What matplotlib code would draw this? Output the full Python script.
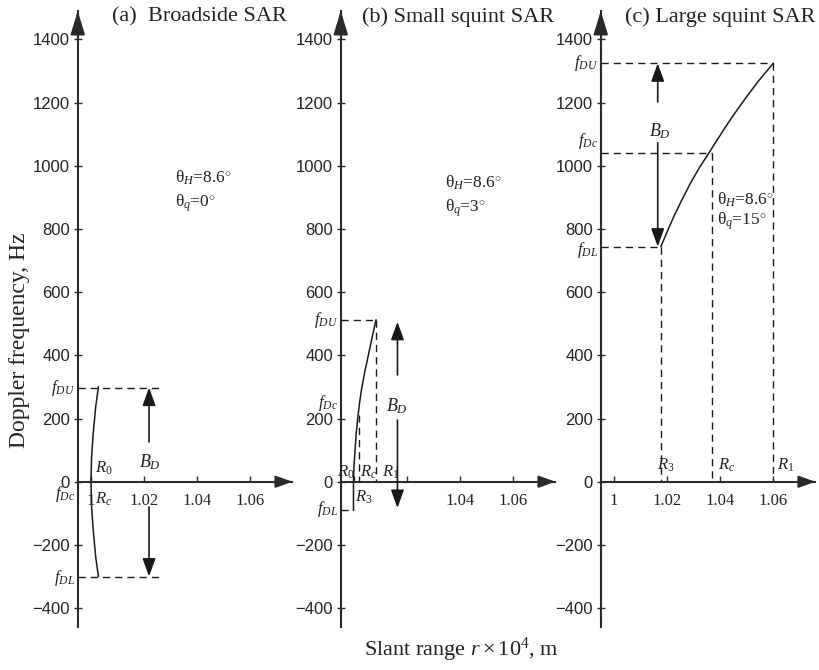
import matplotlib
matplotlib.use('Agg')
import matplotlib.pyplot as plt

plt.rcParams['font.family'] = ['Liberation Serif', 'DejaVu Serif']
plt.rcParams['mathtext.fontset'] = 'custom'
plt.rcParams['mathtext.rm'] = 'Liberation Serif'
plt.rcParams['mathtext.it'] = 'Liberation Serif:italic'
plt.rcParams['mathtext.bf'] = 'Liberation Serif:bold'
plt.rcParams['lines.scale_dashes'] = False

# ---------------- data ----------------
titles = ['(a)  Broadside SAR', '(b) Small squint SAR', '(c) Large squint SAR']
x_ticks = [1.0, 1.02, 1.04, 1.06]
x_ticklabels = [['1', '1.02', '1.04', '1.06'],
                ['', '', '1.04', '1.06'],
                ['1', '1.02', '1.04', '1.06']]
y_ticks = [-400, -200, 0, 200, 400, 600, 800, 1000, 1200, 1400]
theta_H = 8.6
theta_q = [0, 3, 15]

# (a) broadside
a_freq = [300, 240, 150, 75, 0, -75, -150, -240, -300]
a_range = [1.0028, 1.0018, 1.0008, 1.0002, 1.0, 1.0002, 1.0008, 1.0018, 1.0028]
a_fDU, a_fDL = 298, -300

# (b) small squint
b_freq = [-90, 0, 50, 100, 150, 200, 250, 290, 345, 400, 455, 512]
b_range = [0.9998, 0.9998, 1.0000, 1.0004, 1.0008, 1.0014, 1.0021, 1.0028,
           1.0040, 1.0054, 1.0068, 1.0083]
b_fDU, b_fDc, b_fDL = 512, 210, -90
b_R1, b_Rc, b_R3 = 1.0083, 1.0019, 0.9998

# (c) large squint
c_freq = [744, 790, 838, 890, 944, 995, 1039, 1080, 1123, 1170, 1218, 1270, 1324]
c_range = [1.0177, 1.0200, 1.0225, 1.0255, 1.0288, 1.0323, 1.0357, 1.0388,
           1.0421, 1.0459, 1.0500, 1.0547, 1.0601]
c_fDU, c_fDc, c_fDL = 1324, 1039, 744
c_R1, c_Rc, c_R3 = 1.0601, 1.0368, 1.0177

# ---------------- layout ----------------
W, H = 819, 670
XMIN, XMAX = 0.995, 1.076
YMIN, YMAX = -460, 1490
lefts_px = [77.75, 340.75, 600.75]
width_px = 214.65
bottom_px, top_px = 627.1, 10.9

INK = '#1a1a1a'
AXC = '#2a2a2a'
TXT = '#222222'
DASH = (5.2, 3.6)

fig = plt.figure(figsize=(W / 100, H / 100), dpi=100)
axes = []
for i in range(3):
    ax = fig.add_axes([lefts_px[i] / W, (H - bottom_px) / H,
                       width_px / W, (bottom_px - top_px) / H])
    ax.set_xlim(XMIN, XMAX)
    ax.set_ylim(YMIN, YMAX)
    for s in ['top', 'right']:
        ax.spines[s].set_visible(False)
    ax.spines['bottom'].set_position(('data', 0))
    for s in ['left', 'bottom']:
        ax.spines[s].set_linewidth(1.5)
        ax.spines[s].set_color(AXC)
    ax.set_xticks(x_ticks)
    ax.set_xticklabels(x_ticklabels[i], fontfamily='Liberation Serif', fontsize=12)
    ax.set_yticks(y_ticks)
    ax.set_yticklabels([f'{v:d}'.replace('-', '\u2212') for v in y_ticks],
                       fontfamily='Liberation Sans', fontsize=12)
    ax.tick_params(axis='x', direction='in', length=4, width=1.0, pad=8, colors=AXC,
                   labelcolor=TXT)
    ax.tick_params(axis='y', direction='inout', length=6, width=1.0, pad=2.5, colors=AXC,
                   labelcolor=TXT)
    # axis arrow heads
    ax.annotate('', xy=(0, 1), xycoords='axes fraction', xytext=(0, 0.975),
                arrowprops=dict(arrowstyle='-|>,head_length=0.72,head_width=0.22',
                                mutation_scale=20, lw=1.5, color=AXC,
                                shrinkA=0, shrinkB=0))
    ax.annotate('', xy=(1, 0), xycoords=('axes fraction', 'data'),
                xytext=(0.95, 0), textcoords=('axes fraction', 'data'),
                arrowprops=dict(arrowstyle='-|>,head_length=0.5,head_width=0.18',
                                mutation_scale=20, lw=1.5, color=AXC,
                                shrinkA=0, shrinkB=0))
    fig.text([112, 362, 625][i] / W, 1 - 17 / H, titles[i], fontsize=16,
             ha='left', va='center', color=TXT)
    axes.append(ax)


def dashed(ax, xs, ys):
    ax.plot(xs, ys, color=INK, lw=1.0, dashes=DASH, clip_on=False)


def bd_arrow(ax, x, y0, y1):
    ax.annotate('', xy=(x, y1), xytext=(x, y0),
                arrowprops=dict(arrowstyle='-|>,head_length=0.55,head_width=0.2',
                                mutation_scale=20, lw=1.2, color=INK,
                                shrinkA=0, shrinkB=0))


def flabel(ax, y, s):
    ax.annotate(s, xy=(0, y), xycoords=('axes fraction', 'data'),
                xytext=(-2, 0), textcoords='offset points', ha='right', va='center',
                fontsize=12, color=TXT)


def txt(ax, x, y, s, size=12, ha='left'):
    ax.text(x, y, s, fontsize=size, ha=ha, va='center', color=TXT)


def theta_text(ax, x, y1, y2, q):
    txt(ax, x, y1, '\u03b8$_{H}$=' + f'{theta_H}' + '$^{\\circ}$', 12.5)
    txt(ax, x, y2, '\u03b8$_{q}$=' + f'{q}' + '$^{\\circ}$', 12.5)


# ---------- (a) ----------
ax = axes[0]
ax.plot(a_range, a_freq, color=INK, lw=1.1)
dashed(ax, [XMIN, 1.0255], [a_fDU, a_fDU])
dashed(ax, [XMIN, 1.0255], [a_fDL, a_fDL])
bd_arrow(ax, 1.0219, 126, a_fDU)
bd_arrow(ax, 1.0219, -80, a_fDL)
txt(ax, 1.0223, 62, '$B_{D}$', 13, 'center')
txt(ax, 1.0015, 44, '$R_{0}$')
txt(ax, 1.0015, -55, '$R_{c}$')
flabel(ax, a_fDU, '$f_{DU}$')
flabel(ax, -40, '$f_{Dc}$')
flabel(ax, -304, '$f_{DL}$')
theta_text(ax, 1.0317, 961, 882, theta_q[0])

# ---------- (b) ----------
ax = axes[1]
ax.plot(b_range, b_freq, color=INK, lw=1.1)
dashed(ax, [XMIN, b_R1], [b_fDU, b_fDU])
dashed(ax, [b_R1, b_R1], [b_fDU, 0])
dashed(ax, [b_Rc, b_Rc], [b_fDc, 0])
dashed(ax, [XMIN, b_R3], [b_fDL, b_fDL])
bd_arrow(ax, 1.0164, 338, 506)
bd_arrow(ax, 1.0164, 195, -83)
txt(ax, 1.0162, 240, '$B_{D}$', 13, 'center')
txt(ax, 0.9936, 31, '$R_{0}$')
txt(ax, 1.0023, 31, '$R_{c}$')
txt(ax, 1.0104, 31, '$R_{1}$')
txt(ax, 1.0005, -48, '$R_{3}$')
flabel(ax, b_fDU, '$f_{DU}$')
flabel(ax, 249, '$f_{Dc}$')
flabel(ax, -86, '$f_{DL}$')
theta_text(ax, 1.0343, 945, 866, theta_q[1])

# ---------- (c) ----------
ax = axes[2]
ax.plot(c_range, c_freq, color=INK, lw=1.1)
dashed(ax, [XMIN, c_R1], [c_fDU, c_fDU])
dashed(ax, [XMIN, c_Rc], [c_fDc, c_fDc])
dashed(ax, [XMIN, c_R3], [c_fDL, c_fDL])
dashed(ax, [c_R1, c_R1], [c_fDU, 0])
dashed(ax, [c_Rc, c_Rc], [c_fDc, 0])
dashed(ax, [c_R3, c_R3], [c_fDL, 0])
bd_arrow(ax, 1.0165, 1202, c_fDU)
bd_arrow(ax, 1.0165, 1073, c_fDL)
txt(ax, 1.0174, 1110, '$B_{D}$', 13, 'center')
txt(ax, 1.0163, 53, '$R_{3}$')
txt(ax, 1.0394, 53, '$R_{c}$')
txt(ax, 1.0615, 53, '$R_{1}$')
flabel(ax, c_fDU, '$f_{DU}$')
flabel(ax, 1078, '$f_{Dc}$')
flabel(ax, 733, '$f_{DL}$')
theta_text(ax, 1.0388, 891, 823, theta_q[2])

fig.text(20 / W, 1 - 340 / H, 'Doppler frequency, Hz', rotation=90, fontsize=17,
         ha='center', va='center', color=TXT)
fig.text(461 / W, 1 - 650 / H, 'Slant range $r\\times10^{4}$, m', fontsize=16,
         ha='center', va='center', color=TXT)

fig.savefig('out.png', dpi=100)
